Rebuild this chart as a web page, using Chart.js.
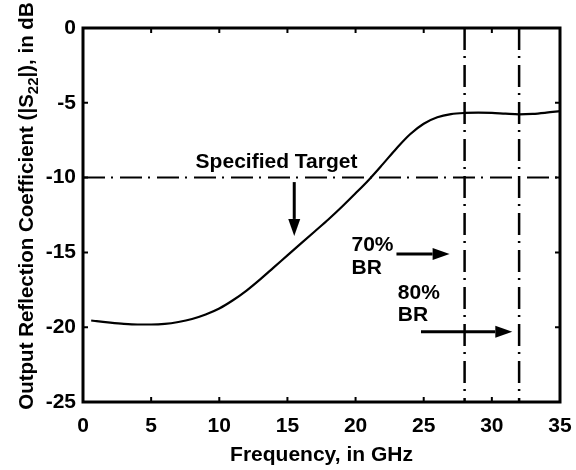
<!DOCTYPE html>
<html>
<head>
<meta charset="utf-8">
<script src="https://cdn.jsdelivr.net/npm/chart.js@4/dist/chart.umd.min.js"></script>
<style>
  html, body { margin: 0; padding: 0; background: #fff; }
  #wrap { width: 576px; height: 470px; }
</style>
</head>
<body>
<div id="wrap"><canvas id="s22Chart" width="576" height="470"></canvas></div>
<script>
// S22 vs frequency
const freqGHz = [0.6, 1, 2, 3, 4, 5, 6, 7, 8, 9, 10, 11, 12, 13, 14, 15, 16, 17, 18, 19, 20, 21, 22, 23, 24, 25, 26, 27, 28, 29, 30, 31, 32, 33, 34, 35];
const s22dB   = [-19.55, -19.6, -19.7, -19.78, -19.82, -19.82, -19.78, -19.65, -19.45, -19.15, -18.75, -18.2, -17.55, -16.8, -16.0, -15.2, -14.4, -13.6, -12.8, -11.95, -11.05, -10.12, -9.1, -8.05, -7.1, -6.4, -5.97, -5.76, -5.68, -5.66, -5.68, -5.73, -5.77, -5.74, -5.66, -5.56];
const targetLevel = -10;
const brFreqs = [28, 32];
const xTicks = [0, 5, 10, 15, 20, 25, 30, 35];
const yTicks = [0, -5, -10, -15, -20, -25];

const FONT = '"Liberation Sans", Arial, Helvetica, sans-serif';
const dashDot = [22, 6, 2, 7];

// annotation text and arrows, in data units
const labels = [
    { text: 'Specified Target', x: 14.2, y: -9.0, align: 'center' },
    { text: '70%', x: 19.7, y: -14.5, align: 'left' },
    { text: 'BR', x: 19.7, y: -16.05, align: 'left' },
    { text: '80%', x: 23.1, y: -17.7, align: 'left' },
    { text: 'BR', x: 23.1, y: -19.2, align: 'left' }
];
const arrows = [
    { x1: 15.5, y1: -10.3, x2: 15.5, y2: -13.9 },
    { x1: 23.0, y1: -15.1, x2: 26.9, y2: -15.1 },
    { x1: 24.8, y1: -20.3, x2: 31.5, y2: -20.3 }
];

const curveData = freqGHz.map((f, i) => ({ x: f, y: s22dB[i] }));
const datasets = [{
    data: curveData,
    borderColor: '#000',
    borderWidth: 2.2,
    pointRadius: 0,
    showLine: true,
    cubicInterpolationMode: 'monotone'
}, {
    data: [{ x: xTicks[0], y: targetLevel }, { x: xTicks[xTicks.length - 1], y: targetLevel }],
    borderColor: '#000',
    borderWidth: 2,
    borderDash: dashDot,
    pointRadius: 0,
    showLine: true
}];
brFreqs.forEach(f => {
    datasets.push({
        data: [{ x: f, y: yTicks[0] }, { x: f, y: yTicks[yTicks.length - 1] }],
        borderColor: '#000',
        borderWidth: 2.5,
        borderDash: dashDot,
        pointRadius: 0,
        showLine: true
    });
});

const framePlugin = {
    id: 'frame',
    afterDraw(chart) {
        const ctx = chart.ctx;
        const a = chart.chartArea;
        const xs = chart.scales.x, ys = chart.scales.y;
        ctx.save();
        ctx.strokeStyle = '#000';
        // inward ticks on all four sides
        ctx.lineWidth = 2;
        xTicks.forEach(v => {
            const px = xs.getPixelForValue(v);
            ctx.beginPath();
            ctx.moveTo(px, a.bottom); ctx.lineTo(px, a.bottom - 5);
            ctx.moveTo(px, a.top); ctx.lineTo(px, a.top + 5);
            ctx.stroke();
        });
        yTicks.forEach(v => {
            const py = ys.getPixelForValue(v);
            ctx.beginPath();
            ctx.moveTo(a.left, py); ctx.lineTo(a.left + 5, py);
            ctx.moveTo(a.right, py); ctx.lineTo(a.right - 5, py);
            ctx.stroke();
        });
        ctx.lineWidth = 3;
        ctx.strokeRect(a.left, a.top, a.right - a.left, a.bottom - a.top);

        // annotations
        ctx.fillStyle = '#000';
        ctx.font = 'bold 21px ' + FONT;
        ctx.textBaseline = 'middle';
        labels.forEach(l => {
            ctx.textAlign = l.align;
            ctx.fillText(l.text, xs.getPixelForValue(l.x), ys.getPixelForValue(l.y));
        });
        arrows.forEach(ar => {
            const x1 = xs.getPixelForValue(ar.x1), y1 = ys.getPixelForValue(ar.y1);
            const x2 = xs.getPixelForValue(ar.x2), y2 = ys.getPixelForValue(ar.y2);
            const ang = Math.atan2(y2 - y1, x2 - x1);
            const hl = 17, hw = 6;
            ctx.lineWidth = 3;
            ctx.beginPath();
            ctx.moveTo(x1, y1);
            ctx.lineTo(x2 - hl * Math.cos(ang), y2 - hl * Math.sin(ang));
            ctx.stroke();
            ctx.beginPath();
            ctx.moveTo(x2, y2);
            ctx.lineTo(x2 - hl * Math.cos(ang) - hw * Math.sin(ang), y2 - hl * Math.sin(ang) + hw * Math.cos(ang));
            ctx.lineTo(x2 - hl * Math.cos(ang) + hw * Math.sin(ang), y2 - hl * Math.sin(ang) - hw * Math.cos(ang));
            ctx.closePath();
            ctx.fill();
        });

        // axis titles
        ctx.textAlign = 'center';
        ctx.textBaseline = 'middle';
        ctx.fillText('Frequency, in GHz', (a.left + a.right) / 2, 455);

        // y title with subscript
        const parts = [
            { t: 'Output Reflection Coefficient (|S', f: 'bold 20.5px ' + FONT, dy: 0 },
            { t: '22', f: 'bold 15px ' + FONT, dy: 5 },
            { t: '|), in dB', f: 'bold 20.5px ' + FONT, dy: 0 }
        ];
        let total = 0;
        parts.forEach(p => { ctx.font = p.f; p.w = ctx.measureText(p.t).width; total += p.w; });
        ctx.translate(26, 206);
        ctx.rotate(-Math.PI / 2);
        ctx.textAlign = 'left';
        ctx.textBaseline = 'alphabetic';
        let cx = -total / 2;
        parts.forEach(p => {
            ctx.font = p.f;
            ctx.fillText(p.t, cx, 7 + p.dy);
            cx += p.w;
        });
        ctx.restore();
    }
};

new Chart(document.getElementById('s22Chart'), {
    type: 'scatter',
    data: { datasets: datasets },
    plugins: [framePlugin],
    options: {
        responsive: false,
        animation: false,
        events: [],
        layout: { padding: { left: 0, right: 16, top: 28, bottom: 0 } },
        plugins: { legend: { display: false }, tooltip: { enabled: false } },
        scales: {
            x: {
                type: 'linear',
                min: 0, max: 35,
                afterBuildTicks: s => { s.ticks = xTicks.map(v => ({ value: v })); },
                afterFit: s => { s.height = 68; s.paddingLeft = 0; s.paddingRight = 0; },
                grid: { display: false, drawTicks: false },
                border: { display: false },
                ticks: { color: '#000', padding: 12, maxRotation: 0, font: { family: FONT, size: 21, weight: 'bold' } }
            },
            y: {
                type: 'linear',
                min: -25, max: 0,
                afterBuildTicks: s => { s.ticks = yTicks.map(v => ({ value: v })); },
                afterFit: s => { s.width = 83; s.paddingTop = 0; s.paddingBottom = 0; },
                grid: { display: false, drawTicks: false },
                border: { display: false },
                ticks: { color: '#000', padding: 7, font: { family: FONT, size: 21, weight: 'bold' } }
            }
        }
    }
});
</script>
</body>
</html>
